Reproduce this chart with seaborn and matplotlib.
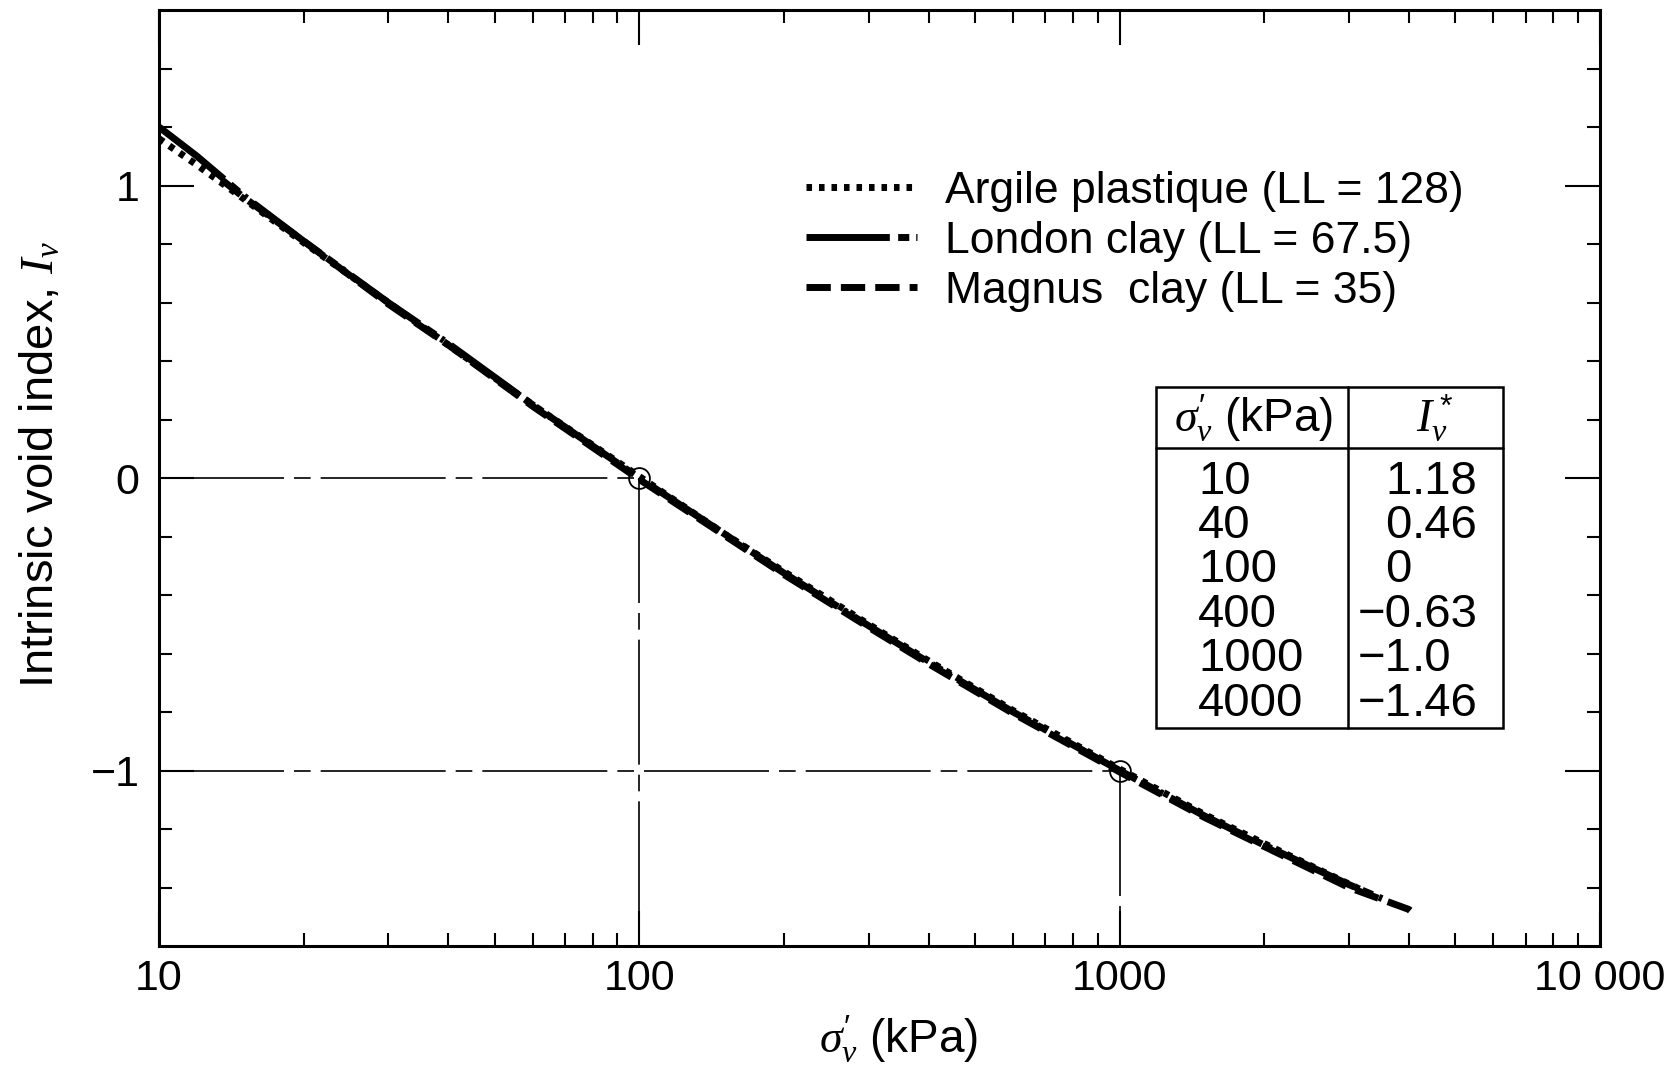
import numpy as np
import pandas as pd
import matplotlib
matplotlib.use("Agg")
import matplotlib.pyplot as plt
import seaborn as sns
from matplotlib.ticker import LogLocator, NullFormatter, FixedLocator
from matplotlib.lines import Line2D
from matplotlib.patches import Rectangle

# ---- curves: vertical effective stress (kPa) and intrinsic void index ----
argile_sigma = [10, 12, 15, 20, 30, 40, 60, 100, 150, 200, 300, 400, 600, 1000, 1500, 2000, 3200]
argile_iv = [1.16, 1.07, 0.955, 0.805, 0.60, 0.455, 0.25, 0.005, -0.19, -0.32, -0.50, -0.625, -0.795, -0.995, -1.15, -1.25, -1.41]

london_sigma = [10, 12, 15, 20, 30, 40, 60, 100, 150, 200, 300, 400, 600, 1000, 1500, 2000, 3000, 3600]
london_iv = [1.20, 1.10, 0.965, 0.81, 0.60, 0.46, 0.25, 0.0, -0.19, -0.325, -0.505, -0.63, -0.80, -1.0, -1.155, -1.255, -1.39, -1.445]

magnus_sigma = [13.5, 15, 20, 30, 40, 60, 100, 150, 200, 300, 400, 600, 1000, 1500, 2000, 3000, 4000, 4100]
magnus_iv = [1.02, 0.96, 0.81, 0.595, 0.455, 0.245, -0.005, -0.195, -0.33, -0.51, -0.635, -0.805, -1.005, -1.16, -1.26, -1.40, -1.475, -1.49]

series_names = ["Argile plastique (LL = 128)", "London clay (LL = 67.5)", "Magnus  clay (LL = 35)"]

# ---- tabulated intrinsic compression line ----
table_sigma = ["10", "40", "100", "400", "1000", "4000"]
table_iv = ["1.18", "0.46", "0", "\u22120.63", "\u22121.0", "\u22121.46"]

x_tick_values = [10, 100, 1000, 10000]
x_tick_labels = ["10", "100", "1000", "10 000"]
y_tick_values = [-1, 0, 1]
y_tick_labels = ["\u22121", "0", "1"]

sns.set_theme(style="ticks")
plt.rcParams.update({
    "font.family": ["Liberation Sans", "DejaVu Sans"],
    "mathtext.fontset": "custom",
    "mathtext.rm": "Liberation Sans",
    "mathtext.sf": "Liberation Sans",
    "mathtext.it": "Liberation Serif:italic",
    "text.color": "black",
    "axes.labelcolor": "black",
    "axes.edgecolor": "black",
    "xtick.color": "black",
    "ytick.color": "black",
})

W, H = 1681, 1072
fig = plt.figure(figsize=(W / 100, H / 100), dpi=100)
fig.patch.set_facecolor("white")
ax = fig.add_axes([159 / W, 1 - 946 / H, 1441 / W, 936 / H])
ax.set_facecolor("white")
ax.set_xscale("log")

LW = 5.0
styles = {
    series_names[0]: (0, (0.8, 1.0)),
    series_names[1]: (0, (12, 1.2, 1.6, 1.0, 0.5, 1.2)),
    series_names[2]: (0, (3.5, 1.45)),
}

df = pd.concat([
    pd.DataFrame({"sigma": argile_sigma, "iv": argile_iv, "clay": series_names[0]}),
    pd.DataFrame({"sigma": london_sigma, "iv": london_iv, "clay": series_names[1]}),
    pd.DataFrame({"sigma": magnus_sigma, "iv": magnus_iv, "clay": series_names[2]}),
], ignore_index=True)

for name in [series_names[1], series_names[2], series_names[0]]:
    sub = df[df["clay"] == name]
    sns.lineplot(data=sub, x="sigma", y="iv", color="black", lw=LW,
                 linestyle=styles[name], sort=False, estimator=None,
                 legend=False, ax=ax, zorder=3)

# reference points from the table and their dash-dot guides
ref_pts = [(float(s), float(v.replace("\u2212", "-")))
           for s, v in zip(table_sigma, table_iv) if s in ("100", "1000")]
guide = dict(color="black", lw=1.2, linestyle=(0, (75, 6, 10, 6)), zorder=2)
for sx, sy in ref_pts:
    ax.plot([10, sx], [sy, sy], **guide)
    ax.plot([sx, sx], [sy, -1.6], **guide)
    ax.plot([sx], [sy], marker="o", ms=15, mfc="none", mec="black", mew=1.3,
            linestyle="none", zorder=4)

ax.set_xlim(10, 10000)
ax.set_ylim(-1.6, 1.6)

ax.set_xticks(x_tick_values, x_tick_labels)
ax.xaxis.set_minor_locator(LogLocator(base=10, subs=np.arange(2, 10)))
ax.xaxis.set_minor_formatter(NullFormatter())
ax.set_yticks(y_tick_values, y_tick_labels)
ax.yaxis.set_minor_locator(FixedLocator(np.round(np.arange(-1.4, 1.41, 0.2), 1)))

ax.tick_params(which="both", direction="in", top=True, right=True,
               width=1.5, colors="black")
ax.tick_params(which="major", length=25, labelsize=31)
ax.tick_params(which="minor", length=9.5)
ax.tick_params(axis="x", which="major", pad=9)
ax.tick_params(axis="y", which="major", pad=14)
for sp in ax.spines.values():
    sp.set_linewidth(2.2)
    sp.set_color("black")

ax.set_xlabel("$\\sigma^{\\prime}_v$ (kPa)", fontsize=33)
ax.xaxis.set_label_coords(0.513, -0.072)
ax.set_ylabel("Intrinsic void index, $I_v$", fontsize=34)
ax.yaxis.set_label_coords(-0.066, 0.515)

handles = [Line2D([0], [0], color="black", lw=LW, linestyle=styles[n]) for n in series_names]
ax.legend(handles, series_names, loc="center left", bbox_to_anchor=(0.449, 0.753),
          frameon=False, fontsize=32, handlelength=2.5, handletextpad=0.62,
          labelspacing=0.2, borderpad=0, borderaxespad=0)

# boxed table of tabulated values
tx0, tx1, txd = 0.6917, 0.9326, 0.825
ty0, ty1, tyh = 0.233, 0.597, 0.532
ax.add_patch(Rectangle((tx0, ty0), tx1 - tx0, ty1 - ty0, transform=ax.transAxes,
                       facecolor="white", edgecolor="black", lw=1.8, zorder=5))
ax.add_line(Line2D([txd, txd], [ty0, ty1], transform=ax.transAxes, color="black", lw=1.8, zorder=6))
ax.add_line(Line2D([tx0, tx1], [tyh, tyh], transform=ax.transAxes, color="black", lw=1.8, zorder=6))
ax.text(0.760, 0.564, "$\\sigma^{\\prime}_v$ (kPa)", transform=ax.transAxes, fontsize=33,
        ha="center", va="center", zorder=7)
ax.text(0.885, 0.564, "$I^*_v$", transform=ax.transAxes, fontsize=33,
        ha="center", va="center", zorder=7)
row_top, row_step = 0.496, 0.0474
for i, (s, v) in enumerate(zip(table_sigma, table_iv)):
    yy = row_top - i * row_step
    ax.text(0.721, yy, s, transform=ax.transAxes, fontsize=34, ha="left", va="center", zorder=7)
    if "." in v:
        ip, fp = v.split(".")
        fp = "." + fp
    else:
        ip, fp = v, ""
    ax.text(0.869, yy, ip, transform=ax.transAxes, fontsize=34, ha="right", va="center", zorder=7)
    if fp:
        ax.text(0.869, yy, fp, transform=ax.transAxes, fontsize=34, ha="left", va="center", zorder=7)

fig.savefig("out.png", dpi=100, facecolor="white")
